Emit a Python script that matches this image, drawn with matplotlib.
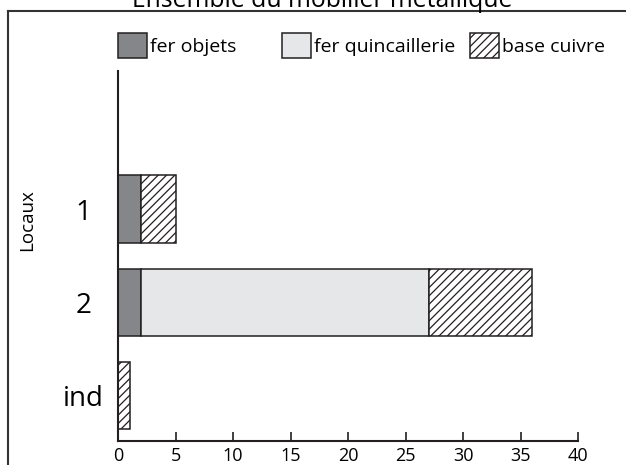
import matplotlib
matplotlib.use("Agg")
import matplotlib.pyplot as plt
import numpy as np
from matplotlib.lines import Line2D
from matplotlib.patches import Patch

plt.rcParams['font.family'] = ['Open Sans', 'DejaVu Sans']
plt.rcParams['hatch.linewidth'] = 0.9
plt.rcParams['hatch.color'] = '#231f20'

title = "Ensemble du mobilier métallique"
categories = ['1', '2', 'ind']
fer_objets = [2, 2, 0]
fer_quincaillerie = [0, 25, 0]
base_cuivre = [3, 9, 1]
series_names = ['fer objets', 'fer quincaillerie', 'base cuivre']
xticks = [0, 5, 10, 15, 20, 25, 30, 35, 40]

W, H = 626, 465
fig = plt.figure(figsize=(W / 100, H / 100), dpi=100)
ax = fig.add_axes([118 / W, 1 - 441 / H, (578 - 118) / W, (441 - 71) / H])

edge = '#231f20'
ypos = np.arange(len(categories))[::-1]
styles = [dict(color='#858689'), dict(color='#e6e7e8'), dict(color='white', hatch='////')]
data = [fer_objets, fer_quincaillerie, base_cuivre]
left = np.zeros(len(categories))
for vals, st in zip(data, styles):
    vals = np.array(vals, dtype=float)
    m = vals > 0
    ax.barh(ypos[m], vals[m], left=left[m], height=0.72, edgecolor=edge,
            linewidth=1.1, zorder=2, **st)
    left += vals

ax.set_xlim(0, 40)
ax.set_ylim(-0.488, 3.48)
ax.set_xticks(xticks)
ax.set_xticklabels([str(t) for t in xticks], fontsize=13)
ax.set_yticks(ypos)
ax.set_yticklabels(categories, fontsize=20, ha='center')
ax.tick_params(axis='y', length=0, pad=25)
ax.tick_params(axis='x', direction='in', length=6.5, width=1.2, color=edge, pad=4)
for s in ['top', 'right']:
    ax.spines[s].set_visible(False)
for s in ['left', 'bottom']:
    ax.spines[s].set_linewidth(1.5)
    ax.spines[s].set_color(edge)

fig.text(27 / W, 1 - 220 / H, 'Locaux', rotation=90, ha='center', va='center', fontsize=13.5)

# frame
fig.add_artist(Line2D([8 / W, 8 / W], [0, 1 - 11 / H], color='#333333', lw=1.5, transform=fig.transFigure))
fig.add_artist(Line2D([8 / W, 1], [1 - 11 / H, 1 - 11 / H], color='#333333', lw=1.5, transform=fig.transFigure))

fig.text(322 / W, 1 - 7 / H, title, ha='center', va='baseline', fontsize=17.8)

# legends
leg_x = [118, 282, 470]
for name, st, lx in zip(series_names, styles, leg_x):
    h = Patch(facecolor=st['color'], hatch=st.get('hatch'), edgecolor=edge, linewidth=1.1)
    fig.legend([h], [name], loc='center left', bbox_to_anchor=(lx / W, 1 - 45.5 / H),
               frameon=False, fontsize=14, handlelength=1.49, handleheight=1.6,
               handletextpad=0.15, borderpad=0, borderaxespad=0)

fig.savefig('out.png', dpi=100)
